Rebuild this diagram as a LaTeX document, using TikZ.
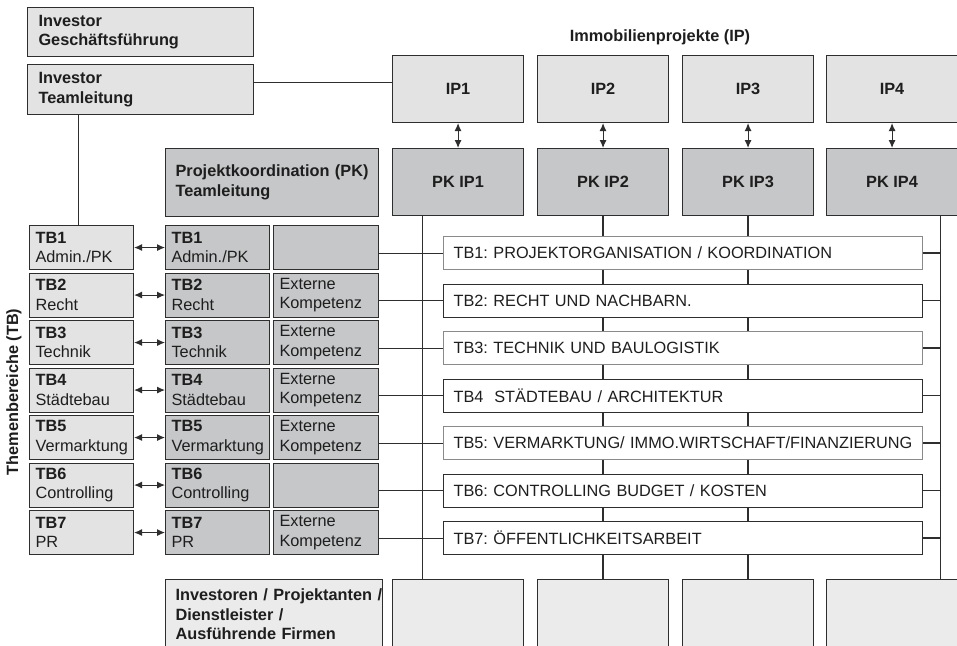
\documentclass[tikz,border=0pt]{standalone}
\usepackage{fontspec}
\setmainfont{Liberation Sans}
\usetikzlibrary{arrows.meta}
\definecolor{lightg}{HTML}{E3E3E4}
\definecolor{darkg}{HTML}{C6C7C8}
\definecolor{botg}{HTML}{EBEBEB}
\definecolor{linec}{HTML}{2E2E2E}
\definecolor{softline}{HTML}{8A8A8A}
\definecolor{txt}{HTML}{1E1E1E}
\newcommand{\fs}{\fontsize{16.3}{19.5}\selectfont}
\frenchspacing
\begin{document}
\frenchspacing
\begin{tikzpicture}[x=1pt,y=-1pt,
  box/.style={draw=linec, line width=1.1pt, anchor=north west, inner ysep=0pt, align=left, font=\fs, text=txt},
  cbox/.style={draw=linec, line width=1.1pt, anchor=north west, inner sep=0pt, align=center, font=\fs\bfseries, text=txt},
  conn/.style={draw=linec, line width=0.9pt},
  thick conn/.style={draw=linec, line width=1.8pt},
  biarrow/.style={{Latex[length=8pt,width=7pt]}-{Latex[length=8pt,width=7pt]}, line width=1pt, draw=linec, fill=linec},
]
\useasboundingbox (0,0) rectangle (957,645);
\clip (0,0) rectangle (957,645);
\fill[white] (0,0) rectangle (957,645);

% investor boxes
\node[box, fill=lightg, text width=204pt, inner xsep=11pt, minimum height=49pt] (gf) at (27,7) {\textbf{Investor}\\\textbf{Geschäftsführung}};
\node[box, fill=lightg, text width=204pt, inner xsep=11pt, minimum height=50pt] (tl) at (27,64) {\textbf{Investor}\\\textbf{Teamleitung}};

% title of projects
\node[font=\fs\bfseries, text=txt] (iptitle) at (660,37) {Immobilienprojekte (IP)};

% project columns
\foreach \i/\x in {1/392,2/537,3/682,4/826} {
  \node[cbox, fill=lightg, minimum width=131pt, minimum height=67pt] (ip\i) at (\x,55) {IP\i};
  \node[cbox, fill=darkg, minimum width=131pt, minimum height=67pt] (pk\i) at (\x,148) {PK IP\i};
  \node[cbox, fill=botg, minimum width=131pt, minimum height=80pt] (b\i) at (\x,579) {};
  \draw[biarrow] (ip\i.south) -- (pk\i.north);
}

% project coordination
\node[box, fill=darkg, text width=193pt, inner xsep=10pt, minimum height=68pt] (pkc) at (165,148) {\textbf{\mbox{Projektkoordination (PK)}}\\\textbf{Teamleitung}};

% bottom left box
\node[box, fill=botg, text width=197pt, inner xsep=10pt, minimum height=70pt] (bl) at (165,579) {\textbf{\mbox{Investoren / Projektanten /}}\\\textbf{Dienstleister /}\\\textbf{Ausführende Firmen}};

% vertical lines from PK boxes
\coordinate (v1) at ([xshift=-35.5pt]pk1.south);
\coordinate (v4) at ([xshift=48.5pt]pk4.south);
\draw[conn] (v1) -- (v1 |- b1.north);
\draw[thick conn] (pk2.south) -- (b2.north);
\draw[thick conn] (pk3.south) -- (b3.north);
\draw[thick conn] (v4) -- (v4 |- b4.north);

% Themenbereiche label
\node[font=\fs\bfseries, text=txt, rotate=90] (tbtitle) at (14,392) {Themenbereiche (TB)};

% rows
\foreach \i/\nm/\ext/\tbt/\bc in {
  1/{Admin./PK}/{}/{TB1: PROJEKTORGANISATION / KOORDINATION}/softline,
  2/{Recht}/{Externe\\Kompetenz}/{TB2: RECHT UND NACHBARN.}/linec,
  3/{Technik}/{Externe\\Kompetenz}/{TB3: TECHNIK UND BAULOGISTIK}/softline,
  4/{Städtebau}/{Externe\\Kompetenz}/{TB4\ \ STÄDTEBAU / ARCHITEKTUR}/linec,
  5/{Vermarktung}/{Externe\\Kompetenz}/{TB5: VERMARKTUNG/ IMMO.WIRTSCHAFT/FINANZIERUNG}/softline,
  6/{Controlling}/{}/{TB6: CONTROLLING BUDGET / KOSTEN}/linec,
  7/{PR}/{Externe\\Kompetenz}/{TB7: ÖFFENTLICHKEITSARBEIT}/linec} {
  \pgfmathsetmacro\ry{225+47.5*(\i-1)}
  \node[box, fill=lightg, text width=92pt, inner xsep=6pt, minimum height=44pt] (a\i) at (29,\ry) {\textbf{TB\i}\\\nm};
  \node[box, fill=darkg, text width=92pt, inner xsep=6pt, minimum height=44pt] (p\i) at (165,\ry) {\textbf{TB\i}\\\nm};
  \node[box, fill=darkg, text width=93pt, inner xsep=6pt, minimum height=44pt] (e\i) at (273,\ry) {\ext};
  \draw[biarrow] (a\i.east) -- (p\i.west);
  \node[box, fill=white, draw=\bc, text width=459pt, inner xsep=10pt, minimum height=33pt] (t\i) at (443,\ry+11) {\mbox{\frenchspacing\tbt}};
  \draw[conn] (e\i.east |- t\i.west) -- (t\i.west);
  \draw[draw=linec, line width=1.4pt] (t\i.east) -- (t\i.east -| v4);
}

% connectors from investor team lead
\coordinate (y82) at (0,82);
\draw[conn] (tl.east |- y82) -- (ip1.west |- y82);
\draw[conn] ([xshift=-3pt]a1.north) -- ([xshift=-3pt]a1.north |- tl.south);
\end{tikzpicture}
\end{document}
